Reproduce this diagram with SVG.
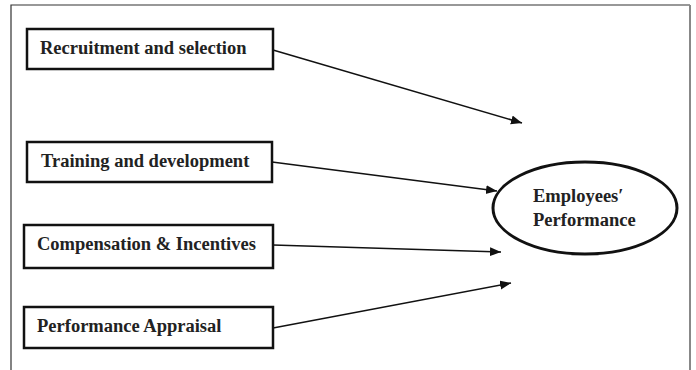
<svg xmlns="http://www.w3.org/2000/svg" width="696" height="370" viewBox="0 0 696 370">
<style>
.box{fill:#fff;stroke:#111;stroke-width:2.5}
.lbl{font-family:"Liberation Serif","Times New Roman",serif;font-weight:bold;font-size:18.5px;fill:#222}
.conn{stroke:#111;stroke-width:1.5;fill:none;marker-end:url(#ah)}
</style>
<defs>
<marker id="ah" markerWidth="12" markerHeight="10" refX="11" refY="4.5" orient="auto" markerUnits="userSpaceOnUse">
<path d="M0,0 L11,4.5 L0,9 Z" fill="#111"/>
</marker>
</defs>
<rect width="696" height="370" fill="#fff"/>
<g id="frame">
<polyline points="11,370 11,5 690,5" fill="none" stroke="#333" stroke-width="1.2"/>
<line x1="690" y1="5" x2="690" y2="370" stroke="#888" stroke-width="2"/>
</g>
<g id="connectors">
<line class="conn" x1="273" y1="50" x2="522" y2="123"/>
<line class="conn" x1="272" y1="162" x2="497" y2="191"/>
<line class="conn" x1="273" y1="245" x2="501" y2="252"/>
<line class="conn" x1="273" y1="328" x2="511" y2="283"/>
</g>
<g id="recruitment">
<rect class="box" x="27" y="29" width="246" height="40"/>
<text class="lbl" x="40" y="54">Recruitment and selection</text>
</g>
<g id="training">
<rect class="box" x="27" y="142" width="245" height="40"/>
<text class="lbl" x="41" y="167">Training and development</text>
</g>
<g id="compensation">
<rect class="box" x="24" y="225" width="249" height="43"/>
<text class="lbl" x="37" y="250">Compensation &amp; Incentives</text>
</g>
<g id="appraisal">
<rect class="box" x="24" y="307" width="249" height="41"/>
<text class="lbl" x="37" y="332">Performance Appraisal</text>
</g>
<g id="performance">
<ellipse cx="585" cy="208" rx="92" ry="46" fill="#fff" stroke="#111" stroke-width="3"/>
<text class="lbl" x="533" y="202">Employees′</text>
<text class="lbl" x="533" y="226">Performance</text>
</g>
</svg>
